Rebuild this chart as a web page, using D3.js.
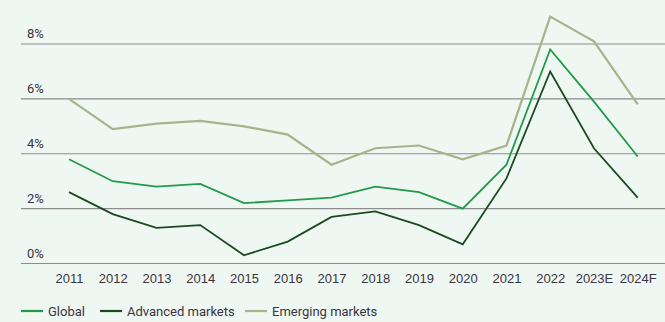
<!DOCTYPE html>
<html lang="en">
<head>
<meta charset="utf-8">
<title>Growth</title>
<script src="https://cdnjs.cloudflare.com/ajax/libs/d3/7.8.5/d3.min.js"></script>
<style>
  body { margin: 0; background: #eff7f2; }
  svg { display: block; font-family: Roboto, "Liberation Sans", sans-serif; }
  .tick text { fill: #3b3440; font-size: 13px; }
</style>
</head>
<body>
<div id="chart"></div>
<script>
const years = ["2011","2012","2013","2014","2015","2016","2017","2018","2019","2020","2021","2022","2023E","2024F"];
const globalVals   = [3.8, 3.0, 2.8, 2.9, 2.2, 2.3, 2.4, 2.8, 2.6, 2.0, 3.6, 7.8, 5.9, 3.9];
const advancedVals = [2.6, 1.8, 1.3, 1.4, 0.3, 0.8, 1.7, 1.9, 1.4, 0.7, 3.1, 7.0, 4.2, 2.4];
const emergingVals = [6.0, 4.9, 5.1, 5.2, 5.0, 4.7, 3.6, 4.2, 4.3, 3.8, 4.3, 9.0, 8.1, 5.8];
const yTicks = [0, 2, 4, 6, 8];
const seriesNames = ["Global", "Advanced markets", "Emerging markets"];
const colors = ["#229a4a", "#1b4a20", "#a4b58a"];

const width = 665, height = 322;
const svg = d3.select("#chart").append("svg")
  .attr("width", width).attr("height", height);

const x = d3.scalePoint().domain(years).range([69, 637.7]);
const y = d3.scaleLinear().domain([0, 8]).range([263.5, 44]);

// grid lines + y labels
const grid = svg.append("g");
grid.selectAll("line").data(yTicks).enter().append("line")
  .attr("x1", 21).attr("x2", width)
  .attr("y1", d => y(d)).attr("y2", d => y(d))
  .attr("stroke", "#8c8c8c").attr("stroke-width", 1.2);
grid.selectAll("text").data(yTicks).enter().append("text")
  .attr("x", 27).attr("y", d => y(d) - 6)
  .attr("fill", "#3b3440").style("font-size", "13px")
  .text(d => d + "%");

// x axis
const xAxis = d3.axisBottom(x).tickSize(0).tickPadding(10);
svg.append("g")
  .attr("transform", "translate(0," + 263.5 + ")")
  .call(xAxis)
  .call(g => g.select(".domain").remove());

const line = d3.line()
  .x((d, i) => x(years[i]))
  .y(d => y(d));

const allSeries = [globalVals, advancedVals, emergingVals];
// draw emerging first so others sit on top
[2, 0, 1].forEach(k => {
  svg.append("path")
    .datum(allSeries[k])
    .attr("fill", "none")
    .attr("stroke", colors[k])
    .attr("stroke-width", k == 2 ? 2.2 : 1.8)
    .attr("d", line);
});

// legend
const legendX = [21, 100, 245];
const legend = svg.append("g").selectAll("g").data(seriesNames).enter().append("g")
  .attr("transform", (d, i) => "translate(" + legendX[i] + ",311)");
legend.append("line")
  .attr("x1", 0).attr("x2", 22)
  .attr("stroke", (d, i) => colors[i]).attr("stroke-width", 2.2);
legend.append("text")
  .attr("x", 27).attr("dy", "0.35em")
  .attr("fill", "#3b3440").style("font-size", "13px")
  .text(d => d);
</script>
</body>
</html>
